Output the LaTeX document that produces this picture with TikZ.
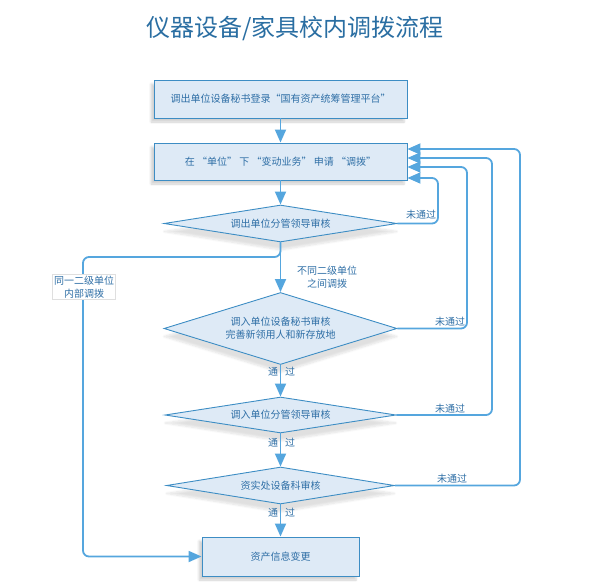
\documentclass[tikz,border=0pt]{standalone}
\usepackage{fontspec}
\setmainfont{Noto Sans CJK SC}
\usetikzlibrary{shapes.geometric,arrows.meta,shadows.blur}
\definecolor{linec}{HTML}{55A6DE}
\definecolor{borderc}{HTML}{3D8DC4}
\definecolor{fillc}{HTML}{DEEAF6}
\definecolor{textc}{HTML}{2F6FA6}
\definecolor{titlec}{HTML}{2A6EA2}
\tikzset{
  txt/.style={text=textc, font=\fontsize{10}{13}\selectfont},
  procbox/.style={txt, draw=borderc, line width=0.9pt, fill=fillc, inner sep=0pt,
    blur shadow={shadow xshift=-3pt, shadow yshift=-4pt, shadow opacity=18, shadow blur steps=6}},
  decision/.style={txt, diamond, shape aspect=4, draw=borderc, line width=0.9pt, fill=fillc, inner sep=0pt, align=center,
    blur shadow={shadow xshift=0pt, shadow yshift=-8pt, shadow opacity=12, shadow blur steps=8}},
  flow/.style={draw=linec, line width=1.8pt, -{Triangle[length=13pt,width=11pt]}},
  backflow/.style={flow, rounded corners=6pt},
  lbl/.style={txt, inner sep=1pt},
}
\begin{document}
\begin{tikzpicture}[x=1pt,y=-1pt]
\useasboundingbox (0,0) rectangle (589,586);
\node[text=titlec, font=\fontsize{24}{28}\selectfont] (title) at (295,28) {仪器设备/家具校内调拨流程};

\node[procbox, minimum width=253pt, minimum height=38pt] (b1) at (280.5,99) {调出单位设备秘书登录“国有资产统筹管理平台”};
\node[procbox, minimum width=253pt, minimum height=37pt] (b2) at (280.5,161.5) {在 “单位” 下 “变动业务” 申请 “调拨”};
\node[decision, minimum width=233pt, minimum height=37pt] (d1) at (280.5,223.5) {调出单位分管领导审核};
\node[decision, minimum width=233pt, minimum height=72pt] (d2) at (280.5,328.5) {调入单位设备秘书审核\\完善新领用人和新存放地};
\node[decision, minimum width=231pt, minimum height=36pt] (d3) at (280.5,415) {调入单位分管领导审核};
\node[decision, minimum width=228pt, minimum height=37pt] (d4) at (280.5,485.5) {资实处设备科审核};
\node[procbox, minimum width=157pt, minimum height=39pt] (b3) at (280.5,556.5) {资产信息变更};

% main flow
\draw[flow] (b1) -- (b2);
\draw[flow] (b2) -- (d1);
\draw[flow] (d1) -- (d2);
\draw[flow] (d2) -- (d3);
\draw[flow] (d3) -- (d4);
\draw[flow] (d4) -- (b3);

\node[lbl, align=center] (l0) at (327,277) {不同二级单位\\之间调拨};
\node[lbl] (p1) at (281.5,372) {通\hspace{7pt}过};
\node[lbl] (p2) at (281.5,443) {通\hspace{7pt}过};
\node[lbl] (p3) at (281.5,513) {通\hspace{7pt}过};

% left branch
\coordinate (lb) at (83,257);
\draw[backflow] (d1.south) |- (lb) |- (b3.west);
\node[lbl, draw=gray!25, fill=white, align=center, inner sep=1.5pt, font=\fontsize{10}{13}\selectfont] (l1) at (84,287) {同一二级单位\\内部调拨};

% return branches
\coordinate (r1) at (438,178);
\coordinate (r2) at (467,167);
\coordinate (r3) at (492,158);
\coordinate (r4) at (520,149);
\draw[backflow] (d1.east) -| (r1) -- (b2.east |- r1);
\draw[backflow] (d2.east) -| (r2) -- (b2.east |- r2);
\draw[backflow] (d3.east) -| (r3) -- (b2.east |- r3);
\draw[backflow] (d4.east) -| (r4) -- (b2.east |- r4);

\node[lbl] (n1) at (421,215) {未通过};
\node[lbl] (n2) at (450,322) {未通过};
\node[lbl] (n3) at (450,409) {未通过};
\node[lbl] (n4) at (452,479) {未通过};
\end{tikzpicture}
\end{document}
